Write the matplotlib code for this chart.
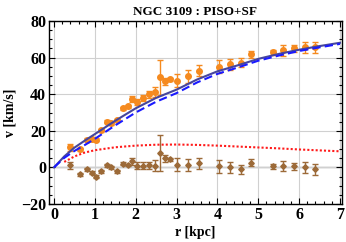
import numpy as np
import matplotlib
matplotlib.use("Agg")
import matplotlib.pyplot as plt
from matplotlib.ticker import MultipleLocator

plt.rcParams['font.family'] = ['Liberation Serif', 'DejaVu Serif']
plt.rcParams['font.weight'] = 'bold'

# observed rotation curve and residuals
r_obs = [0.38, 0.64, 0.80, 0.92, 1.03, 1.16, 1.29, 1.40, 1.53, 1.69, 1.82, 1.91, 2.04, 2.19, 2.33, 2.46,
         2.60, 2.71, 2.83, 3.02, 3.29, 3.55, 4.04, 4.32, 4.58, 4.82, 5.36, 5.60, 5.87, 6.14, 6.40]
v_obs = [10.9, 9.9, 15.0, 15.3, 15.0, 20.4, 25.0, 24.0, 25.9, 32.3, 33.5, 37.3, 35.8, 38.0, 39.9, 41.2,
         49.2, 47.0, 48.1, 47.3, 49.8, 52.7, 55.0, 56.3, 57.2, 61.8, 62.9, 63.9, 65.1, 65.6, 65.6]
v_res = [1.1, -3.8, -1.0, -2.9, -5.2, -2.0, 1.1, 0.0, -2.0, 2.0, 1.3, 3.3, 1.0, 0.9, 1.1, 0.9,
         7.8, 5.0, 4.5, 1.5, 1.3, 2.2, 0.6, 0.0, -1.0, 2.6, 0.5, 0.9, 0.5, 0.0, -1.0]
v_err = [1.8, 0.8, 0.8, 0.8, 0.8, 0.8, 0.8, 0.6, 0.8, 0.8, 0.8, 1.8, 1.8, 1.8, 1.8, 3.0,
         9.7, 1.8, 0.9, 3.5, 3.5, 3.0, 3.5, 3.0, 2.5, 2.0, 1.5, 2.8, 2.0, 3.0, 3.0]

# model curves
r_mod = [0, 0.25, 0.5, 0.75, 1, 1.5, 2, 2.5, 3, 3.5, 4, 4.5, 5, 5.5, 6, 6.5, 7]
v_total = [0, 6.0, 10.8, 14.6, 18.2, 25.5, 32.3, 38.0, 42.5, 48.0, 52.5, 55.8, 59.3, 62.0, 64.3, 66.3, 68.1]
v_halo = [0, 5.2, 9.0, 12.2, 15.6, 23.0, 30.0, 35.9, 40.6, 46.4, 51.1, 54.6, 58.3, 61.1, 63.6, 65.6, 67.5]
r_disk = [0.25, 0.5, 0.75, 1, 1.5, 2, 2.5, 3, 3.5, 4, 4.5, 5, 5.5, 6, 6.5, 7]
v_disk = [3.0, 6.0, 8.1, 9.4, 11.0, 11.9, 12.4, 12.5, 12.3, 11.9, 11.4, 10.9, 10.4, 9.8, 9.3, 8.8]

fig = plt.figure(figsize=(3.46, 2.42), dpi=100)
ax = fig.add_axes([0.1416, 0.157, 0.8468, 0.7562])

ax.axhline(0, color='#999999', lw=1.0, zorder=1)
ax.grid(True, which='major', color='#d0d0d0', lw=0.8, zorder=0)

ax.errorbar(r_obs, v_obs, yerr=v_err, fmt='o', color='#f58a1f', ms=4, elinewidth=1.0,
            capsize=2, capthick=1.0, zorder=3)
ax.errorbar(r_obs, v_res, yerr=v_err, fmt='D', color='#9c6a38', ms=2.8, elinewidth=1.0,
            capsize=2, capthick=1.0, zorder=3)

ax.plot(r_mod, v_total, color='#46469c', lw=1.5, zorder=4)
ax.plot(r_mod, v_halo, color='#1a1aff', lw=1.5, ls=(0, (4, 2)), zorder=4)
ax.plot(r_disk, v_disk, color='#ff1a1a', lw=1.5, ls=(0, (1, 1)), zorder=4)

ax.set_xlim(-0.123, 7.05)
ax.set_ylim(-20, 80)
ax.xaxis.set_major_locator(MultipleLocator(1))
ax.xaxis.set_minor_locator(MultipleLocator(0.2))
ax.yaxis.set_major_locator(MultipleLocator(20))
ax.yaxis.set_minor_locator(MultipleLocator(5))
ax.tick_params(which='both', direction='in', top=True, right=True, width=0.8)
ax.tick_params(which='major', length=4, labelsize=11.5, pad=2)
ax.tick_params(which='minor', length=2)
for lab in ax.get_xticklabels() + ax.get_yticklabels():
    lab.set_fontweight('bold')
for s in ax.spines.values():
    s.set_linewidth(1.0)

ax.set_title('NGC 3109 : PISO+SF', fontsize=9.5, fontweight='bold', pad=4)
ax.set_xlabel('r [kpc]', fontsize=10, fontweight='bold', labelpad=2)
ax.set_ylabel('v [km/s]', fontsize=10, fontweight='bold', labelpad=3)

fig.savefig('out.png', dpi=100)
